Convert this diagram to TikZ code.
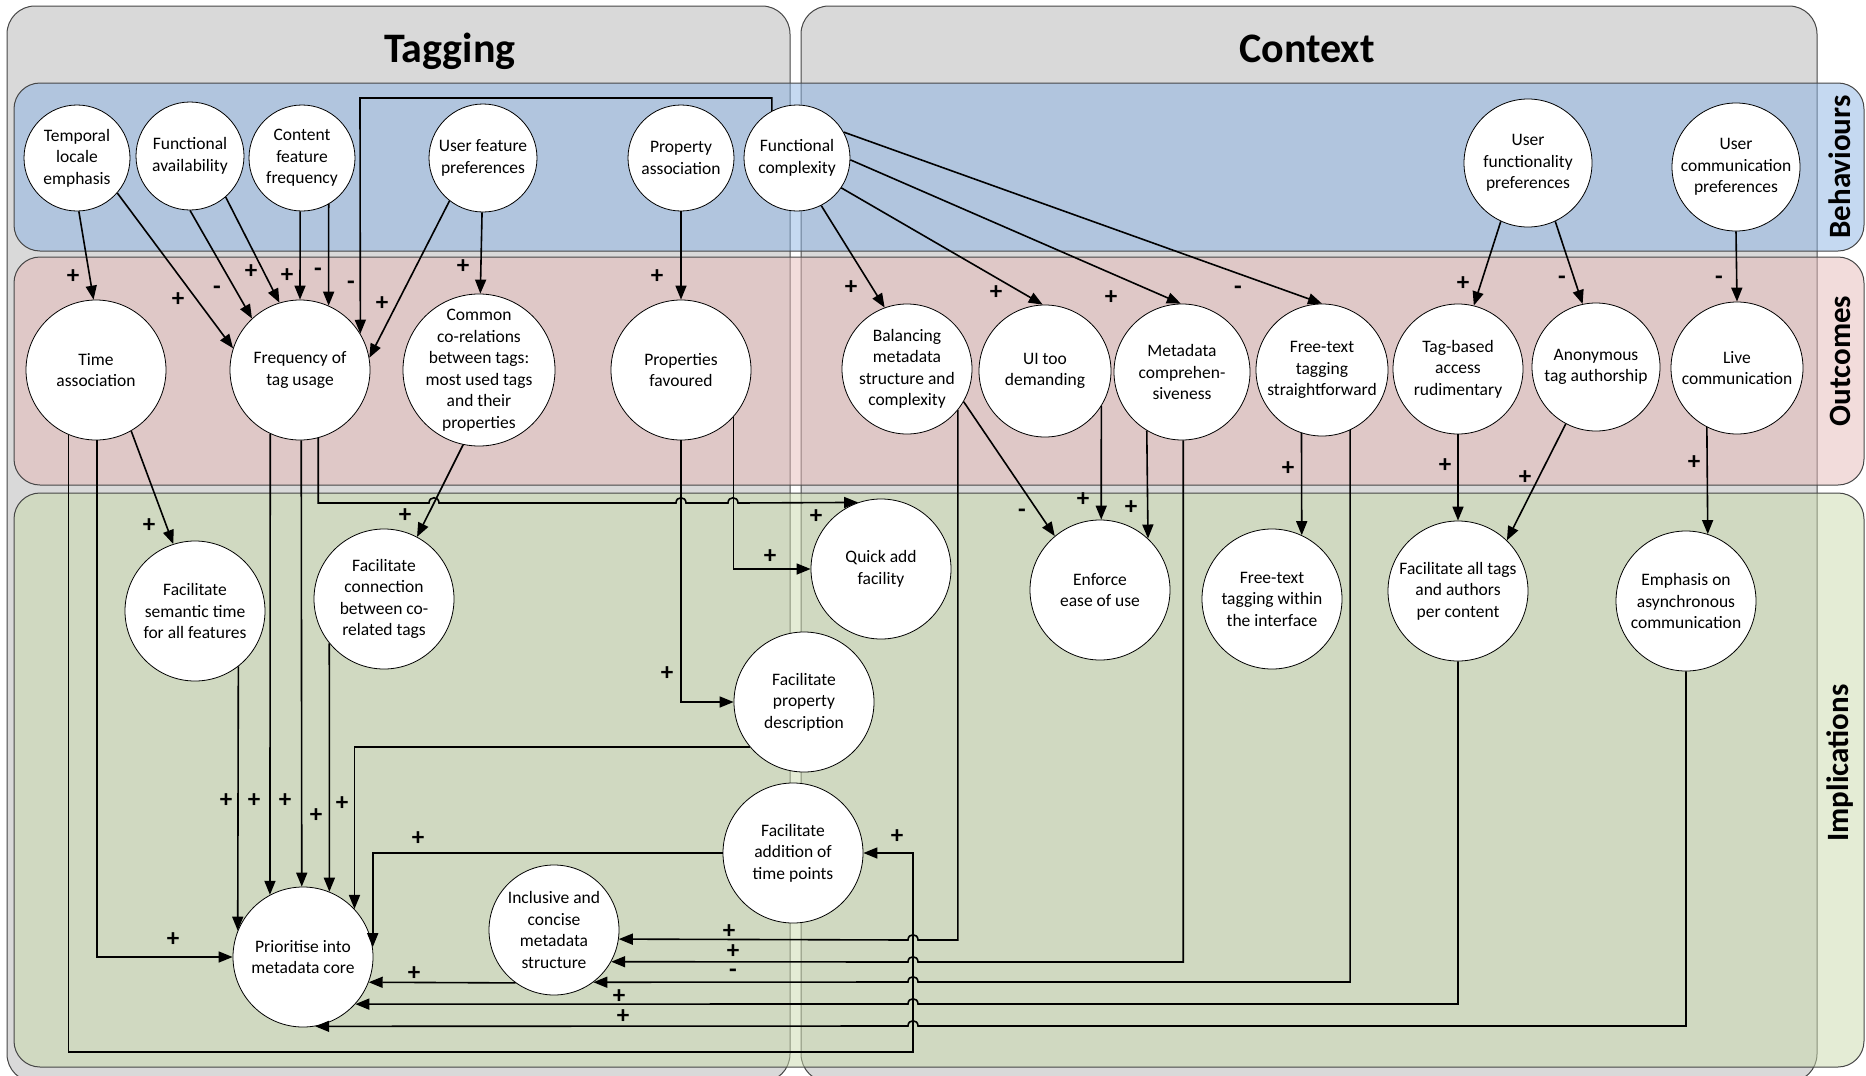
\documentclass[tikz,border=0pt]{standalone}
\usepackage{fontspec}
\setmainfont{Carlito}
\usetikzlibrary{arrows.meta}
\definecolor{panelgray}{RGB}{217,217,217}
\definecolor{bandblue}{RGB}{139,179,227}
\definecolor{bandpink}{RGB}{229,185,183}
\definecolor{bandgreen}{RGB}{201,217,171}
\definecolor{edgegray}{RGB}{70,70,70}
\newcommand{\nodefont}{\fontsize{17.5}{21.5}\selectfont}
\newcommand{\labfont}{\bfseries\fontsize{25}{25}\selectfont}
\newcommand{\titlefont}{\bfseries\fontsize{42}{42}\selectfont}
\newcommand{\sidefont}{\bfseries\fontsize{31}{31}\selectfont}
\begin{document}
\begin{tikzpicture}[x=1pt,y=-1pt,
  panel/.style={draw=edgegray, line width=1pt, fill=panelgray, rounded corners=28pt},
  band/.style={draw=edgegray, line width=1pt, fill opacity=0.5, rounded corners=26pt},
  nd/.style={circle, draw=black, line width=0.8pt, fill=white, align=center, inner sep=-30pt, font=\nodefont},
  con/.style={line width=1.6pt, -{Triangle[length=14pt,width=11pt]}},
  lab/.style={font=\labfont, inner sep=0pt},
  title/.style={font=\titlefont, anchor=base, inner sep=0pt},
  side/.style={font=\sidefont, rotate=90, inner sep=0pt}]
\useasboundingbox (0,0) rectangle (1866,1076);
\begin{scope}
\clip (0,0) rectangle (1866,1076);
\draw[panel] (7,6) rectangle (790,1082);
\draw[panel] (801,6) rectangle (1817,1082);
\end{scope}
\draw[band, fill=bandblue] (14,83) rectangle (1864,251);
\draw[band, fill=bandpink] (14,257) rectangle (1864,485);
\draw[band, fill=bandgreen] (14,493) rectangle (1864,1067);
\node[title] (ttag) at (450,62) {Tagging};
\node[title] (tcon) at (1307,62) {Context};
\node[side] (sbeh) at (1840,167) {Behaviours};
\node[side] (sout) at (1840,361) {Outcomes};
\node[side] (simp) at (1840,763) {Implications};
% Behaviours
\node[nd, minimum size=106pt] (tle) at (77,158) {Temporal\\locale\\emphasis};
\node[nd, minimum size=108pt] (fa) at (190,156) {Functional\\availability};
\node[nd, minimum size=106pt] (cff) at (302,158) {Content\\feature\\frequency};
\node[nd, minimum size=108pt] (ufp) at (483,158) {User feature\\preferences};
\node[nd, minimum size=106pt] (pa) at (681,158) {Property\\association};
\node[nd, minimum size=106pt] (fc) at (797,158) {Functional\\complexity};
\node[nd, minimum size=128pt] (ufnp) at (1528,163) {User\\functionality\\preferences};
\node[nd, minimum size=128pt] (ucp) at (1736,167) {User\\communication\\preferences};
% Outcomes
\node[nd, minimum size=140pt] (ta) at (96,370) {Time\\association};
\node[nd, minimum size=140pt] (ftu) at (300,370) {Frequency of\\tag usage};
\node[nd, minimum size=152pt] (cc) at (479,370) {Common\\co-relations\\between tags:\\most used tags\\and their\\properties};
\node[nd, minimum size=140pt] (pf) at (681,370) {Properties\\favoured};
\node[nd, minimum size=130pt] (bal) at (907,369) {Balancing\\metadata\\structure and\\complexity};
\node[nd, minimum size=132pt] (ui) at (1045,371) {UI too\\demanding};
\node[nd, minimum size=136pt] (mc) at (1182,372) {Metadata\\comprehen-\\siveness};
\node[nd, minimum size=132pt] (fts) at (1322,370) {Free-text\\tagging\\straightforward};
\node[nd, minimum size=130pt] (tb) at (1458,369) {Tag-based\\access\\rudimentary};
\node[nd, minimum size=128pt] (anon) at (1596,367) {Anonymous\\tag authorship};
\node[nd, minimum size=132pt] (live) at (1737,368) {Live\\communication};
% Implications
\node[nd, minimum size=140pt] (fst) at (195,611) {Facilitate\\semantic time\\for all features};
\node[nd, minimum size=140pt] (fcon) at (384,599) {Facilitate\\connection\\between co-\\related tags};
\node[nd, minimum size=140pt] (prio) at (303,957) {Prioritise into\\metadata core};
\node[nd, minimum size=130pt] (icm) at (554,930) {Inclusive and\\concise\\metadata\\structure};
\node[nd, minimum size=140pt] (fatp) at (793,853) {Facilitate\\addition of\\time points};
\node[nd, minimum size=140pt] (fpd) at (804,702) {Facilitate\\property\\description};
\node[nd, minimum size=140pt] (qa) at (881,569) {Quick add\\facility};
\node[nd, minimum size=140pt] (enf) at (1100,590) {Enforce\\ease of use};
\node[nd, minimum size=140pt] (ftw) at (1272,599) {Free-text\\tagging within\\the interface};
\node[nd, minimum size=140pt] (fat) at (1458,591) {Facilitate all tags\\and authors\\per content};
\node[nd, minimum size=140pt] (emph) at (1686,601) {Emphasis on\\asynchronous\\communication};
% Behaviours -> Outcomes
\draw[con] (tle.-88) -- (ta.92);
\draw[con] (tle.-41) -- (ftu.162);
\draw[con] (fa.-90) -- (ftu.133);
\draw[con] (fa.-49) -- (ftu.107);
\draw[con] (cff.-92) -- (ftu.90);
\draw[con] (cff.-60.6) -- (ftu.66.4);
\draw[con] (fc.118) |- (360,98) -- (ftu.31);
\draw[con] (ufp.-128) -- (ftu.10.5);
\draw[con] (ufp.-91) -- (cc.89);
\draw[con] (pa.-90) -- (pf.90);
\draw[con] (fc.-63) -- (bal.110.6);
\draw[con] (fc.-34.3) -- (ui.92.6);
\draw[con] (fc.-2) -- (mc.91.7);
\draw[con] (fc.29.5) -- (fts.90.9);
\draw[con] (ufnp.-115) -- (tb.76);
\draw[con] (ufnp.-65) -- (anon.102.5);
\draw[con] (ucp.-90) -- (live.90);
% Outcomes -> Implications
\draw[con] (ta.-60) -- (fst.108);
\draw[con] (ta.-89) |- (prio.180);
\draw[con] (ta.-113.6) |- (913,1052) |- (fatp.0);
\draw[con] (ftu.-115.4) -- (prio.118.1);
\draw[con] (ftu.-89) -- (prio.91.5);
\draw[con] (ftu.-75.1) |- (429,503) .. controls (429,496) and (439,496) .. (439,503) -- (676,503) .. controls (676,496) and (686,496) .. (686,503) -- (728,503) .. controls (728,496) and (738,496) .. (738,503) -- (qa.109.5);
\draw[con] (cc.-102.8) -- (fcon.62);
\draw[con] (pf.-90) |- (fpd.180);
\draw[con] (pf.-42) |- (qa.180);
\draw[con] (bal.-30.4) -- (enf.130.5);
\draw[con] (ui.-32) -- (enf.89);
\draw[con] (mc.-121) -- (enf.47.8);
\draw[con] (fts.-108.5) -- (ftw.65.5);
\draw[con] (tb.-90) -- (fat.90);
\draw[con] (anon.-118.9) -- (fat.46.7);
\draw[con] (live.-117) -- (emph.72.5);
\draw[con] (bal.-39.7) |- (918,940) .. controls (918,933) and (908,933) .. (908,940) -- (icm.-8.85);
\draw[con] (mc.-89) |- (918,962) .. controls (918,955) and (908,955) .. (908,962) -- (icm.-29.5);
\draw[con] (fts.-65.9) |- (918,982) .. controls (918,975) and (908,975) .. (908,982) -- (icm.-53.1);
\draw[con] (fat.-90) |- (918,1004) .. controls (918,997) and (908,997) .. (908,1004) -- (prio.-42.2);
\draw[con] (emph.-90) |- (918,1026) .. controls (918,1019) and (908,1019) .. (908,1026) -- (prio.-80.2);
% Implications -> Implications
\draw[con] (fst.-52.1) -- (prio.158.2);
\draw[con] (fcon.-141.8) -- (prio.68.2);
\draw[con] (fpd.220) -| (prio.43.2);
\draw[con] (fatp.180) -| (prio.8);
\draw[con] (icm.234.6) -- (prio.-21.8);
% signs
\node[lab] (l1) at (73,277) {+};
\node[lab] (l2) at (178,300) {+};
\node[lab] (l3) at (217,290) {-};
\node[lab] (l4) at (251,272) {+};
\node[lab] (l5) at (287,276) {+};
\node[lab] (l6) at (318,272) {-};
\node[lab] (l7) at (351,285) {-};
\node[lab] (l8) at (382,304) {+};
\node[lab] (l9) at (463,267) {+};
\node[lab] (l10) at (657,277) {+};
\node[lab] (l11) at (851,288) {+};
\node[lab] (l12) at (996,293) {+};
\node[lab] (l13) at (1111,298) {+};
\node[lab] (l14) at (1238,290) {-};
\node[lab] (l15) at (1463,284) {+};
\node[lab] (l16) at (1562,280) {-};
\node[lab] (l17) at (1719,280) {-};
\node[lab] (l18) at (149,526) {+};
\node[lab] (l19) at (173,940) {+};
\node[lab] (l20) at (897,837) {+};
\node[lab] (l21) at (254,801) {+};
\node[lab] (l22) at (285,801) {+};
\node[lab] (l23) at (816,517) {+};
\node[lab] (l24) at (405,516) {+};
\node[lab] (l25) at (667,674) {+};
\node[lab] (l26) at (770,557) {+};
\node[lab] (l27) at (226,801) {+};
\node[lab] (l28) at (316,816) {+};
\node[lab] (l29) at (342,804) {+};
\node[lab] (l30) at (418,839) {+};
\node[lab] (l31) at (414,974) {+};
\node[lab] (l32) at (729,932) {+};
\node[lab] (l33) at (733,952) {+};
\node[lab] (l34) at (733,973) {-};
\node[lab] (l35) at (619,997) {+};
\node[lab] (l36) at (623,1017) {+};
\node[lab] (l37) at (1083,500) {+};
\node[lab] (l38) at (1131,508) {+};
\node[lab] (l39) at (1022,513) {-};
\node[lab] (l40) at (1288,469) {+};
\node[lab] (l41) at (1445,466) {+};
\node[lab] (l42) at (1525,478) {+};
\node[lab] (l43) at (1694,463) {+};
\end{tikzpicture}
\end{document}
